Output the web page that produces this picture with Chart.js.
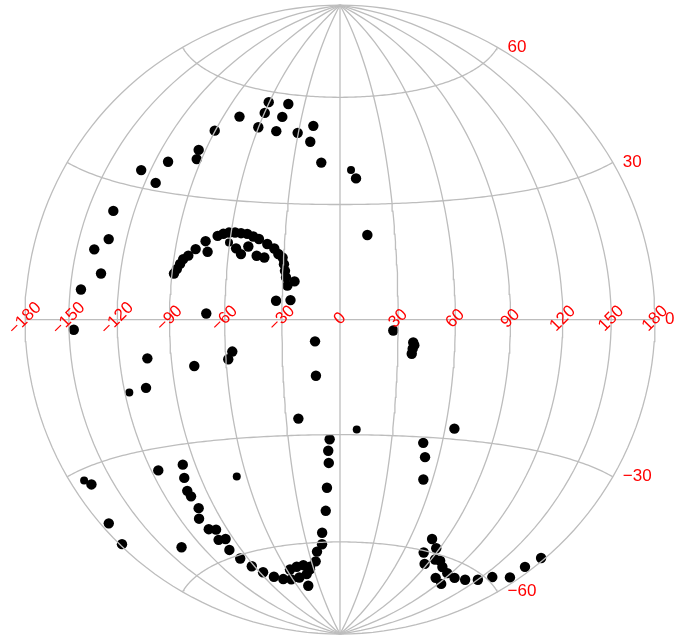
<!DOCTYPE html>
<html>
<head>
<meta charset="utf-8">
<style>
  html, body { margin: 0; background: #fff; }
  canvas { display: block; }
</style>
<script src="https://cdn.jsdelivr.net/npm/chart.js@4"></script>
</head>
<body>
<canvas id="map" width="693" height="640"></canvas>
<script>
// graticule
const lonTicks = [-180, -150, -120, -90, -60, -30, 0, 30, 60, 90, 120, 150, 180]
const latTicks = [-60, -30, 0, 30, 60]

// sites, degrees
const lon = [
  -138.6, -131.0, -133.3, -126.2, -113.1, -111.2, -93.2, -94.7, -90.4, -77.8,
  -131.7, -143.1, -146.9, -60.5, -43.6, -59.8, -45.0, -60.2, -46.2, -30.5,
  -19.9, -20.6, -12.0, 9.8, 14.9, -88.9, -87.6, -86.1, -84.7, -82.1,
  -78.5, -73.6, -71.6, -67.3, -64.3, -61.2, -57.8, -54.4, -50.9, -47.4,
  -44.1, -39.3, -35.3, -32.9, -30.5, -29.6, -28.9, -28.2, -27.4, -23.7,
  -33.1, -25.6, -56.1, -53.1, -49.5, -44.5, -40.3, -69.9, -103.6, -77.6,
  -56.4, -58.8, -106.8, -12.9, -12.7, -23.2, 27.5, 38.0, 38.6, 37.8,
  37.4, 65.4, -6.0, -7.0, -6.9, -8.7, -10.5, -14.9, -16.3, 48.8,
  51.6, 54.0, -165.9, -173.7, -178.2, -115.4, -98.0, -100.7, -102.9, -102.3,
  -101.6, -106.0, -104.1, -98.8, -102.5, -96.5, -100.2, -97.0, -92.5, -136.4,
  -22.1, -25.6, -86.6, -79.3, -71.0, -61.9, -50.9, -40.2, -34.3, -56.4,
  -47.7, -39.9, -33.3, -45.2, 78.5, 87.0, 78.7, 87.3, 93.5, 99.0,
  106.3, 116.6, 128.2, 139.5, 150.1, 158.6, 172.4, 173.0, 176.9, 110.7,
  123.0
]
const lat = [
  15.0, 17.6, 23.8, 33.9, 31.8, 37.2, 39.2, 41.5, 47.0, 51.8,
  10.0, 6.3, -2.1, 57.0, 57.2, 53.9, 53.4, 49.8, 49.3, 49.3,
  51.5, 47.0, 41.3, 37.0, 21.9, 11.0, 12.1, 13.4, 14.6, 15.5,
  17.2, 19.3, 16.7, 20.8, 21.4, 21.8, 21.9, 21.8, 21.7, 21.1,
  20.5, 19.3, 18.2, 16.8, 15.9, 14.2, 12.5, 10.8, 8.7, 9.8,
  4.8, 5.0, 17.9, 16.5, 18.5, 16.2, 15.8, 1.5, -9.0, -11.3,
  -8.0, -9.9, -15.8, -5.6, -14.5, -25.6, -2.8, -5.8, -6.5, -7.4,
  -8.7, -27.3, -31.2, -34.3, -37.6, -44.4, -50.9, -57.2, -60.6, -31.5,
  -35.2, -41.1, -33.4, -41.4, -45.9, -35.1, -34.9, -38.1, -41.3, -42.8,
  -46.0, -48.5, -51.6, -52.2, -54.8, -55.1, -58.0, -60.9, -63.7, -53.2,
  -62.7, -65.6, -66.1, -68.1, -69.4, -70.0, -69.9, -69.2, -67.9, -67.1,
  -66.6, -66.4, -67.1, -72.8, -56.5, -58.6, -60.5, -63.4, -61.5, -61.4,
  -62.7, -63.6, -63.8, -62.9, -61.3, -59.0, -56.6, -53.2, -49.9, -65.8,
  -66.5
]
const smallLon = [6.9, -60.4, -117.3, 9.5, -169.4, -66.3]
const smallLat = [39.3, 19.3, -16.5, -28.6, -32.1, -39.8]

// hammer style equal area, whole sphere fits in a circle
function project(lo, la) {
  const l = lo * Math.PI / 360
  const p = la * Math.PI / 180
  const k = 1 / Math.sqrt(1 + Math.cos(p) * Math.cos(l))
  return { x: Math.cos(p) * Math.sin(l) * k, y: Math.sin(p) * k }
}

function curve(fn, from, to) {
  const pts = []
  for (let t = from; t <= to; t += 2) pts.push(fn(t))
  return pts
}

function gridSet(pts) {
  return {
    data: pts, showLine: true, borderColor: '#bdbdbd', borderWidth: 1.3,
    pointRadius: 0, order: 0, clip: false
  }
}

const meridians = lonTicks.map(lo => gridSet(curve(t => project(lo, t), -90, 90)))
const parallels = latTicks.map(la => gridSet(curve(t => project(t, la), -180, 180)))

// tick text is drawn on the projected scale positions
const tickText = {
  id: 'tickText',
  afterDatasetsDraw(chart) {
    const { ctx, scales } = chart
    ctx.save()
    ctx.fillStyle = '#ff0000'
    ctx.font = '17px "Liberation Sans", Arial, sans-serif'
    ctx.textBaseline = 'middle'
    ctx.textAlign = 'center'
    lonTicks.forEach(lo => {
      const p = project(lo, 0)
      ctx.save()
      ctx.translate(scales.x.getPixelForValue(p.x), scales.y.getPixelForValue(p.y) - 1)
      ctx.rotate(-Math.PI / 4)
      ctx.fillText(String(lo).replace('-', '\u2212'), 0, 0)
      ctx.restore()
    })
    ctx.textAlign = 'left'
    latTicks.forEach(la => {
      const p = project(180, la)
      ctx.fillText(String(la).replace('-', '\u2212'),
        scales.x.getPixelForValue(p.x) + 10, scales.y.getPixelForValue(p.y) - 0.5)
    })
    ctx.restore()
  }
}

new Chart(document.getElementById('map').getContext('2d'), {
  type: 'scatter',
  data: {
    datasets: [
      ...meridians,
      ...parallels,
      {
        data: lon.map((v, i) => project(v, lat[i])),
        backgroundColor: '#000', borderWidth: 0, pointRadius: 5.2, order: 1, clip: false
      },
      {
        data: smallLon.map((v, i) => project(v, smallLat[i])),
        backgroundColor: '#000', borderWidth: 0, pointRadius: 4, order: 1, clip: false
      }
    ]
  },
  options: {
    responsive: false,
    animation: false,
    layout: { padding: { left: 25, right: 38, top: 4, bottom: 6 } },
    plugins: { legend: { display: false }, tooltip: { enabled: false } },
    scales: {
      x: { type: 'linear', min: -1, max: 1, display: false },
      y: { type: 'linear', min: -1, max: 1, display: false }
    }
  },
  plugins: [tickText]
})
</script>
</body>
</html>
